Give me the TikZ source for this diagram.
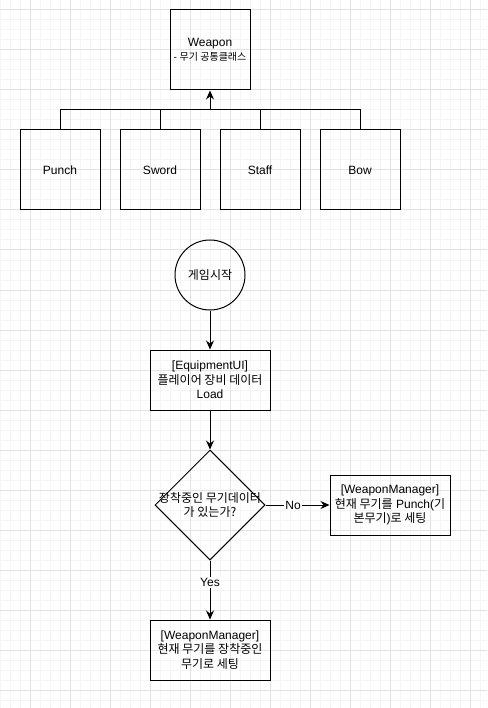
\documentclass[tikz,border=0pt]{standalone}
\usepackage{fontspec}
\setmainfont{Liberation Sans}
\newfontfamily\krfont{Noto Sans CJK KR}
\newcommand\hg[1]{{\krfont #1}}
\usetikzlibrary{arrows.meta,shapes.geometric}
\definecolor{gridminor}{RGB}{245,245,245}
\definecolor{gridmajor}{RGB}{226,226,226}

\begin{document}
\begin{tikzpicture}[x=1pt, y=-1pt,
  txt/.style={font=\fontsize{12}{14.5}\selectfont, align=center, inner sep=0pt},
  box/.style={txt, draw, line width=1pt, minimum width=80pt, minimum height=80pt},
  wide box/.style={box, minimum width=120pt, minimum height=60pt},
  link/.style={line width=1pt},
  arrow/.style={link, -{Stealth[length=9pt, width=8pt, inset=3pt]}},
  edge label/.style={txt, fill=white, inner sep=1pt}
]
  \def\W{487}
  \def\H{708}
  % paper and grid
  \fill[white] (0,0) rectangle (\W,\H);
  \useasboundingbox (0,0) rectangle (\W,\H);
  \foreach \gx in {0,10,...,480}
    \draw[gridminor, line width=1pt] (\gx,0) -- (\gx,\H);
  \foreach \gy in {0,10,...,700}
    \draw[gridminor, line width=1pt] (0,\gy) -- (\W,\gy);
  \foreach \gx in {30,70,...,470}
    \draw[gridmajor, line width=1pt] (\gx,0) -- (\gx,\H);
  \foreach \gy in {10,50,...,690}
    \draw[gridmajor, line width=1pt] (0,\gy) -- (\W,\gy);

  % class tree
  \node[box] (weapon) at (210,50)
    {Weapon\\{\fontsize{10}{12}\selectfont - \hg{무기 공통클래스}}};
  \node[box] (punch) at (60,170) {Punch};
  \node[box] (sword) at (160,170) {Sword};
  \node[box] (staff) at (260,170) {Staff};
  \node[box] (bow) at (360,170) {Bow};
  \coordinate (joint) at (210,110);
  \draw[link]
    (punch) |- (joint)
    (sword) |- (joint)
    (staff) |- (joint)
    (bow) |- (joint)
  ;
  \draw[arrow] (joint) -- (weapon);

  % flow
  \node[txt, draw, circle, line width=1pt, minimum size=70pt] (start)
    at (210,275) {\hg{게임시작}};
  \node[wide box] (equip) at (210,380)
    {[EquipmentUI]\\\hg{플레이어 장비 데이터}\\Load};
  \node[draw, diamond, line width=1pt, minimum width=110pt,
    minimum height=110pt, inner sep=0pt] (check) at (210,505) {};
  \node[txt] (checktext) at (check)
    {\hg{장착중인 무기데이터}\\\hg{가 있는가?}};
  \node[wide box] (nomgr) at (390,505)
    {[WeaponManager]\\\hg{현재 무기를} Punch(\hg{기}\\\hg{본무기})\hg{로 세팅}};
  \node[wide box] (yesmgr) at (210,650)
    {[WeaponManager]\\\hg{현재 무기를 장착중인}\\\hg{무기로 세팅}};

  \draw[arrow] (start) -- (equip);
  \draw[arrow] (equip) -- (check);
  \draw[arrow]
    (check.east) -- node[edge label, pos=0.43] (no) {No} (nomgr.west)
  ;
  \draw[arrow]
    (check.south) -- node[edge label, pos=0.37] (yes) {Yes} (yesmgr.north)
  ;
\end{tikzpicture}
\end{document}
